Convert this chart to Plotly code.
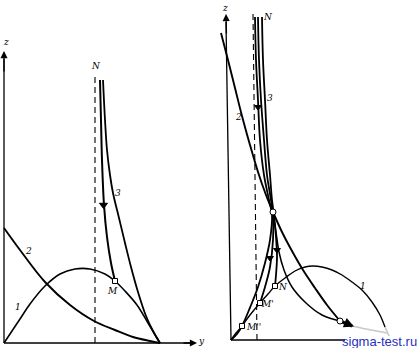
import plotly.graph_objects as go

# ---------------- left diagram (units: y horizontal, z vertical) ----------------
L_c2_y = [0.0, 0.16, 0.41, 0.66, 0.90, 1.11, 1.29, 1.46, 1.56]
L_c2_z = [1.15, 0.93, 0.61, 0.38, 0.22, 0.13, 0.06, 0.02, 0.0]

L_c1_y = [0.0, 0.08, 0.16, 0.26, 0.41, 0.56, 0.71, 0.86, 1.01, 1.11, 1.21, 1.33, 1.44, 1.56]
L_c1_z = [0.0, 0.12, 0.24, 0.39, 0.57, 0.69, 0.74, 0.74, 0.69, 0.62, 0.52, 0.38, 0.20, 0.0]

L_c3a_y = [0.96, 0.97, 0.98, 1.00, 1.03, 1.07, 1.11]
L_c3a_z = [2.63, 2.23, 1.83, 1.38, 1.06, 0.80, 0.62]

L_c3b_y = [0.99, 1.01, 1.03, 1.06, 1.09, 1.15, 1.21, 1.27, 1.34, 1.42, 1.49, 1.56]
L_c3b_z = [2.63, 2.23, 1.93, 1.68, 1.50, 1.25, 1.00, 0.76, 0.51, 0.27, 0.12, 0.0]

L_dash_y = [0.91, 0.91]
L_dash_z = [0.0, 2.66]

L_M = (1.11, 0.62)
L_arrow = (0.995, 1.38)

# ---------------- right diagram ----------------
R_c2_y = [-0.10, -0.03, 0.04, 0.11, 0.19, 0.27, 0.35, 0.42, 0.51, 0.61, 0.72, 0.84, 0.96, 1.09]
R_c2_z = [3.07, 2.80, 2.52, 2.24, 1.95, 1.68, 1.45, 1.28, 1.08, 0.89, 0.70, 0.52, 0.35, 0.19]

R_low_y = [0.42, 0.45, 0.48, 0.53, 0.61, 0.75, 0.91, 1.09]
R_low_z = [1.28, 1.08, 0.88, 0.70, 0.53, 0.37, 0.25, 0.19]

R_tail_y = [1.09, 1.21]
R_tail_z = [0.19, 0.14]

R_c1_y = [0.0, 0.05, 0.11, 0.19, 0.29, 0.37, 0.44, 0.54, 0.64, 0.74, 0.82, 0.91, 1.01, 1.11, 1.21, 1.31, 1.41, 1.49, 1.54]
R_c1_z = [0.0, 0.07, 0.14, 0.25, 0.37, 0.46, 0.54, 0.62, 0.69, 0.73, 0.74, 0.73, 0.70, 0.65, 0.58, 0.50, 0.38, 0.25, 0.13]

R_pa_y = [0.24, 0.25, 0.27, 0.29, 0.33, 0.38, 0.41, 0.39, 0.34, 0.27, 0.18, 0.11, 0.06, 0.0]
R_pa_z = [3.23, 2.80, 2.40, 2.00, 1.65, 1.40, 1.25, 1.00, 0.77, 0.53, 0.30, 0.14, 0.06, 0.0]

R_pb_y = [0.27, 0.28, 0.30, 0.33, 0.36, 0.40, 0.42, 0.42, 0.39, 0.34, 0.29]
R_pb_z = [3.23, 2.80, 2.40, 2.00, 1.65, 1.40, 1.25, 1.00, 0.73, 0.53, 0.37]

R_pc_y = [0.31, 0.32, 0.34, 0.36, 0.39, 0.41, 0.43, 0.45, 0.46, 0.45, 0.44]
R_pc_z = [3.23, 2.80, 2.40, 2.00, 1.65, 1.40, 1.25, 1.03, 0.83, 0.65, 0.54]

R_dash_y = [0.26, 0.22]
R_dash_z = [0.0, 3.27]

R_squares_y = [0.11, 0.29, 0.44]
R_squares_z = [0.14, 0.37, 0.54]
R_circles_y = [0.42, 1.09]
R_circles_z = [1.28, 0.19]
R_arrows_y = [0.27, 0.39, 0.46]
R_arrows_z = [2.33, 0.82, 0.90]

R_fade1_y = [1.21, 1.40, 1.56]
R_fade1_z = [0.14, 0.10, 0.07]
R_fade2_y = [1.54, 1.58]
R_fade2_z = [0.13, 0.04]

fig = go.Figure()


def curve(x, z, xa, ya, width=1.7, dash=None, color="black", shape="spline"):
    fig.add_trace(go.Scatter(
        x=x, y=z, mode="lines", xaxis=xa, yaxis=ya, hoverinfo="skip", showlegend=False,
        line=dict(color=color, width=width, dash=dash, shape=shape, smoothing=1.0)))


def marks(x, z, xa, ya, symbol, size=6, fill="white"):
    fig.add_trace(go.Scatter(
        x=x, y=z, mode="markers", xaxis=xa, yaxis=ya, hoverinfo="skip", showlegend=False,
        marker=dict(symbol=symbol, size=size, color=fill, line=dict(color="black", width=1))))


# left diagram
curve(L_dash_y, L_dash_z, "x", "y", width=1.1, dash="6px,4px", shape="linear")
curve([0, 0], [0, 2.84], "x", "y", width=1.3, shape="linear")
curve([0, 1.88], [0, 0], "x", "y", width=1.5, shape="linear")
curve(L_c2_y, L_c2_z, "x", "y", width=1.9)
curve(L_c1_y, L_c1_z, "x", "y", width=1.6)
curve(L_c3a_y, L_c3a_z, "x", "y", width=2.0)
curve(L_c3b_y, L_c3b_z, "x", "y", width=1.8)
marks([L_M[0]], [L_M[1]], "x", "y", "square", size=5)
marks([L_arrow[0]], [L_arrow[1]], "x", "y", "triangle-down", size=7, fill="black")

# right diagram
curve(R_dash_y, R_dash_z, "x2", "y2", width=1.1, dash="6px,4px", shape="linear")
curve([0, -0.05], [0, 3.18], "x2", "y2", width=1.3, shape="linear")
curve([0, 1.14], [0, 0], "x2", "y2", width=1.5, shape="linear")
curve(R_fade1_y, R_fade1_z, "x2", "y2", width=1.6, color="#c8c8c8")
curve(R_fade2_y, R_fade2_z, "x2", "y2", width=1.6, color="#c8c8c8", shape="linear")
curve(R_c1_y, R_c1_z, "x2", "y2", width=1.4)
curve(R_c2_y, R_c2_z, "x2", "y2", width=1.9)
curve(R_low_y, R_low_z, "x2", "y2", width=1.5)
curve(R_tail_y, R_tail_z, "x2", "y2", width=3.0, shape="linear")
curve(R_pa_y, R_pa_z, "x2", "y2", width=1.8)
curve(R_pb_y, R_pb_z, "x2", "y2", width=1.8)
curve(R_pc_y, R_pc_z, "x2", "y2", width=1.8)
marks(R_arrows_y, R_arrows_z, "x2", "y2", "triangle-down", size=6, fill="black")
marks(R_squares_y, R_squares_z, "x2", "y2", "square", size=5)
marks(R_circles_y, R_circles_z, "x2", "y2", "circle", size=6)

LBL = dict(family="DejaVu Serif", size=9, color="black")
labels = [
    ("x", "y", 0.02, 3.01, "z"), ("x", "y", 1.97, 0.02, "y"),
    ("x", "y", 0.92, 2.77, "N"), ("x", "y", 1.14, 1.50, "3"),
    ("x", "y", 0.24, 0.92, "2"), ("x", "y", 0.14, 0.36, "1"),
    ("x", "y", 1.08, 0.52, "M"),
    ("x2", "y2", -0.06, 3.32, "z"), ("x2", "y2", 0.37, 3.23, "N"),
    ("x2", "y2", 0.39, 2.42, "3"), ("x2", "y2", 0.07, 2.23, "2"),
    ("x2", "y2", 1.32, 0.54, "1"), ("x2", "y2", 0.22, 0.135, "M''"),
    ("x2", "y2", 0.365, 0.36, "M'"), ("x2", "y2", 0.52, 0.53, "N"),
]
ann = [dict(xref=xa, yref=ya, x=x, y=z, text="<i>%s</i>" % t, showarrow=False, font=LBL)
       for xa, ya, x, z, t in labels]

# axis arrow heads
for xa, ya, x, z, ax, az in [("x", "y", 0, 2.92, 0, 2.70), ("x", "y", 1.93, 0, 1.78, 0),
                             ("x2", "y2", -0.05, 3.26, -0.045, 3.05)]:
    ann.append(dict(xref=xa, yref=ya, axref=xa, ayref=ya, x=x, y=z, ax=ax, ay=az,
                    text="", showarrow=True, arrowhead=2, arrowsize=1.1, arrowwidth=1.3,
                    arrowcolor="black"))
# arrow at the end of the thick tail
ann.append(dict(xref="x2", yref="y2", axref="x2", ayref="y2", x=1.23, y=0.135, ax=1.12, ay=0.18,
                text="", showarrow=True, arrowhead=2, arrowsize=1, arrowwidth=2, arrowcolor="black"))

ann.append(dict(xref="paper", yref="paper", x=419 / 420, y=(348 - 341) / 348, xanchor="right",
                yanchor="middle", text="sigma-test.ru", showarrow=False,
                font=dict(family="Liberation Sans", size=13, color="#1f2fbf")))

hidden = dict(visible=False, fixedrange=True)
fig.update_layout(
    width=420, height=348, margin=dict(l=0, r=0, t=0, b=0),
    paper_bgcolor="white", plot_bgcolor="white", showlegend=False,
    xaxis=dict(domain=[0, 0.5], range=[-0.04, 2.06], anchor="y", **hidden),
    yaxis=dict(domain=[0, 1], range=[-0.05, 3.43], anchor="x", **hidden),
    xaxis2=dict(domain=[0.5, 1], range=[-0.21, 1.89], anchor="y2", **hidden),
    yaxis2=dict(domain=[0, 1], range=[-0.08, 3.40], anchor="x2", **hidden),
    annotations=ann,
)

fig.write_html("out.html")
